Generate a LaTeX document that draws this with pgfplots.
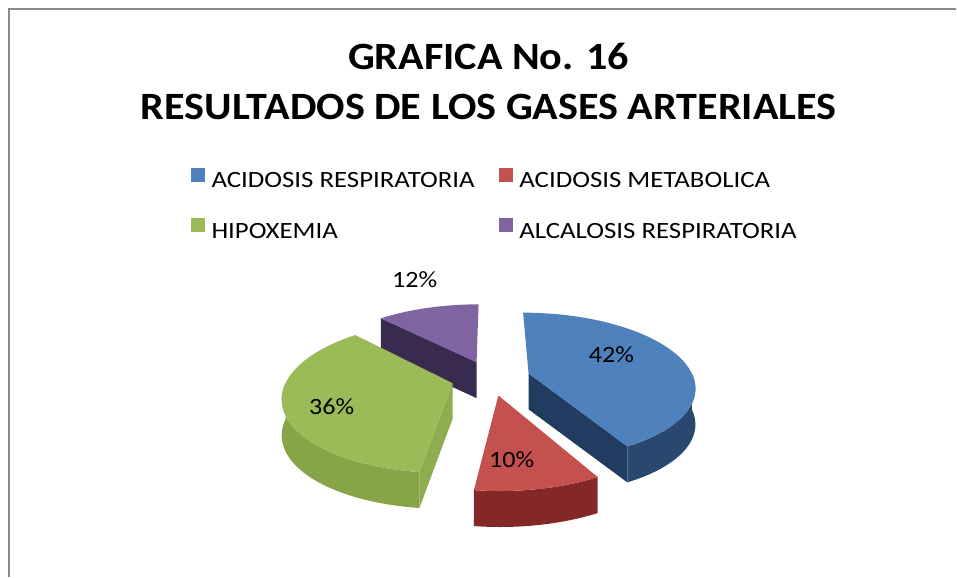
\documentclass[border=0pt]{standalone}
\usepackage{pgfplots}
\pgfplotsset{compat=1.18}
\usepackage{pgfplotstable}
\usepackage{fontspec}
\setmainfont{Carlito}
\newfontfamily\legfont[FakeStretch=1.15]{Carlito}
\newfontfamily\labfont[FakeStretch=1.12]{Carlito}
\newfontfamily\titfont[FakeStretch=1.09]{Carlito}

\definecolor{bTop}{HTML}{4F81BD}
\definecolor{bWall}{HTML}{284870}
\definecolor{bFace}{HTML}{213C60}
\definecolor{rTop}{HTML}{C5514E}
\definecolor{rWall}{HTML}{842827}
\definecolor{gTop}{HTML}{9BBB59}
\definecolor{gWall}{HTML}{87A548}
\definecolor{gFace}{HTML}{8EAD4E}
\definecolor{pTop}{HTML}{8064A2}
\definecolor{pFace}{HTML}{392B4F}
\definecolor{frame}{HTML}{898989}

\pgfplotstableread[col sep=comma]{
label,value
ACIDOSIS RESPIRATORIA,42
ACIDOSIS METABOLICA,10
HIPOXEMIA,36
ALCALOSIS RESPIRATORIA,12
}\piedata

\newcommand\topface[4]{% start, end, bisector, colour
  \addplot[forget plot, fill=#4, draw=none, domain=0:2, samples=121]
    ({PX(TR(\x),TH(\x,#1,#2),#3)},{PY(TR(\x),TH(\x,#1,#2),#3,0)});}
\newcommand\wall[4]{% start, end, bisector, colour
  \addplot[forget plot, fill=#4, draw=none, domain=0:3, samples=121]
    ({PX(1,WH(\x,#1,#2),#3)},{PY(1,WH(\x,#1,#2),#3,WD(\x))});}
\newcommand\radface[3]{% angle, bisector, colour
  \addplot[forget plot, fill=#3, draw=none, domain=0:3, samples=4]
    ({PX(RR(\x),#1,#2)},{PY(RR(\x),#1,#2,WD(\x))});}

\begin{document}
\begin{tikzpicture}[declare function={
  PX(\r,\h,\b)=491+165*(\r*sin(\h)+0.24*sin(\b))/(1+0.17*(\r*cos(\h)+0.24*cos(\b)));
  PY(\r,\h,\b,\d)=199+72.5*(\r*cos(\h)+0.24*cos(\b))/(1+0.17*(\r*cos(\h)+0.24*cos(\b)))-\d;
  TR(\s)=(\s<=1)?1:(2-\s);
  TH(\s,\a,\c)=(\s<=1)?(\a+(\c-\a)*\s):\c;
  WH(\s,\a,\c)=(\s<=1)?(\a+(\c-\a)*\s):((\s<=2)?\c:(\c-(\c-\a)*(\s-2)));
  WD(\s)=(\s<=1)?0:((\s<=2)?36*(\s-1):36);
  RR(\s)=(\s<=1)?\s:((\s<=2)?1:(3-\s));
}]
\pgfplotstablegetelem{0}{value}\of\piedata \pgfmathsetmacro\vA{\pgfplotsretval}
\pgfplotstablegetelem{1}{value}\of\piedata \pgfmathsetmacro\vB{\pgfplotsretval}
\pgfplotstablegetelem{2}{value}\of\piedata \pgfmathsetmacro\vC{\pgfplotsretval}
\pgfplotstablegetelem{3}{value}\of\piedata \pgfmathsetmacro\vD{\pgfplotsretval}
\pgfmathsetmacro\tot{\vA+\vB+\vC+\vD}
\pgfmathsetmacro\eA{360*\vA/\tot}
\pgfmathsetmacro\eB{\eA+360*\vB/\tot}
\pgfmathsetmacro\eC{\eB+360*\vC/\tot}
\pgfmathsetmacro\eD{\eC+360*\vD/\tot}
\pgfmathsetmacro\mA{\eA/2}
\pgfmathsetmacro\mB{(\eA+\eB)/2}
\pgfmathsetmacro\mC{(\eB+\eC)/2}
\pgfmathsetmacro\mD{(\eC+\eD)/2}
\pgfmathsetmacro\wAs{max(0,90)}
\pgfmathsetmacro\wCe{min(\eC,270)}
\begin{axis}[
  hide axis, scale only axis, clip=false,
  width=717.75pt, height=432.75pt,
  xmin=0, xmax=957, ymin=0, ymax=577,
  legend columns=2,
  legend cell align=left,
  legend image code/.code={\fill[#1, draw=none] (0pt,0pt) rectangle (10.5pt,10.5pt);},
  legend style={at={(axis cs:191,409)}, anchor=north west, draw=none, fill=none,
    inner sep=0pt, outer sep=0pt, font=\legfont\fontsize{17.5}{21}\selectfont,
    row sep=19pt,
    nodes={inner sep=0pt, text height=13pt, text depth=4pt},
    /tikz/every odd column/.append style={column sep=5pt},
    /tikz/every even column/.append style={column sep=18pt}},
]
\path (axis cs:0,0) rectangle (axis cs:957,577);
\draw[frame, line width=1.1pt] (axis cs:9,0) -- (axis cs:9,568) -- (axis cs:957,568);

% purple (back)
\radface{\eC}{\mD}{pFace}
\topface{\eC}{\eD}{\mD}{pTop}
% green
\radface{\eB}{\mC}{gFace}
\wall{\eB}{\wCe}{\mC}{gWall}
\topface{\eB}{\eC}{\mC}{gTop}
% blue
\radface{\eA}{\mA}{bFace}
\wall{\wAs}{\eA}{\mA}{bWall}
\topface{0}{\eA}{\mA}{bTop}
% red (front)
\wall{\eA}{\eB}{\mB}{rWall}
\topface{\eA}{\eB}{\mB}{rTop}

\addlegendimage{fill=bTop}\addlegendentry{ACIDOSIS RESPIRATORIA}
\addlegendimage{fill=rTop}\addlegendentry{ACIDOSIS METABOLICA}
\addlegendimage{fill=gTop}\addlegendentry{HIPOXEMIA}
\addlegendimage{fill=pTop}\addlegendentry{ALCALOSIS RESPIRATORIA}

\node[font=\titfont\fontsize{29}{35}\selectfont\bfseries, anchor=base] at (axis cs:489,507) {GRAFICA No. 16};
\node[font=\titfont\fontsize{29}{35}\selectfont\bfseries, anchor=base] at (axis cs:489,457) {RESULTADOS DE LOS GASES ARTERIALES};

\node[font=\labfont\fontsize{17.5}{21}\selectfont] at (axis cs:612,222) {42\%};
\node[font=\labfont\fontsize{17.5}{21}\selectfont] at (axis cs:512,117) {10\%};
\node[font=\labfont\fontsize{17.5}{21}\selectfont] at (axis cs:332,170) {36\%};
\node[font=\labfont\fontsize{17.5}{21}\selectfont] at (axis cs:415,297) {12\%};
\end{axis}
\end{tikzpicture}
\end{document}
